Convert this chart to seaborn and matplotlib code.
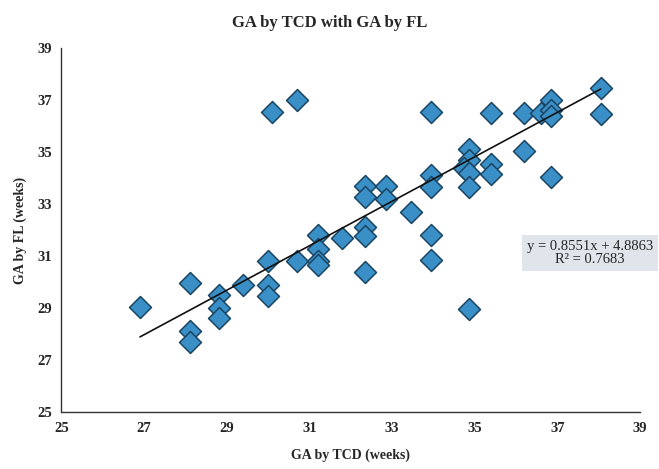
import matplotlib
matplotlib.use("Agg")
import matplotlib.pyplot as plt
import seaborn as sns
import numpy as np
import pandas as pd

# ---- data ----
ga_tcd = [26.9, 28.1, 28.1, 28.1, 28.8, 28.8, 28.8, 29.4, 30.0, 30.0, 30.0,
          30.1, 30.7, 30.7, 31.2, 31.2, 31.2, 31.2, 31.8, 32.35, 32.35, 32.35,
          32.35, 32.35, 32.85, 32.85, 33.45, 33.95, 33.95, 33.95, 33.95, 33.95,
          34.85, 34.85, 34.75, 34.85, 34.85, 34.85, 35.4, 35.4, 35.4, 36.2,
          36.2, 36.6, 36.85, 36.85, 36.85, 36.85, 38.05, 38.05]
ga_fl = [29.05, 29.95, 28.1, 27.7, 29.5, 29.0, 28.6, 29.9, 30.8, 29.9, 29.45,
         36.55, 37.0, 30.8, 31.8, 31.25, 30.8, 30.65, 31.7, 33.7, 33.25, 32.1,
         31.75, 30.4, 33.7, 33.2, 32.7, 36.55, 34.1, 33.65, 31.8, 30.85,
         35.1, 34.7, 34.4, 34.2, 33.65, 28.95, 34.55, 34.15, 36.5, 36.5,
         35.05, 36.5, 37.0, 36.6, 36.4, 34.05, 37.45, 36.45]
slope = 0.8551
intercept = 4.8863
r_squared = 0.7683
x_ticks = [25, 27, 29, 31, 33, 35, 37, 39]
y_ticks = [25, 27, 29, 31, 33, 35, 37, 39]

df = pd.DataFrame({"GA by TCD (weeks)": ga_tcd, "GA by FL (weeks)": ga_fl})

sns.set_style("white")
plt.rcParams["font.family"] = ["Liberation Serif", "DejaVu Serif"]

fig = plt.figure(figsize=(6.59, 4.69), dpi=100)
ax = fig.add_axes([61.5 / 659, 1 - 412 / 469, (640 - 61.5) / 659, (412 - 48) / 469])

sns.scatterplot(data=df, x="GA by TCD (weeks)", y="GA by FL (weeks)", ax=ax,
                marker="D", s=125, color="#3a8fc6", edgecolor="#1a4562",
                linewidth=1.1, zorder=3)

xl = np.array([min(ga_tcd), max(ga_tcd)])
ax.plot(xl, slope * xl + intercept, color="#111111", linewidth=1.2, zorder=4)

ax.set_xlim(25, 39)
ax.set_ylim(25, 39)
ax.set_xticks(x_ticks)
ax.set_yticks(y_ticks)
ax.tick_params(axis="both", direction="out", length=4, width=0.8, color="#333333",
               labelsize=10.5, pad=3)
for lab in ax.get_xticklabels() + ax.get_yticklabels():
    lab.set_fontweight("bold")
for side in ["top", "right"]:
    ax.spines[side].set_visible(False)
for side in ["left", "bottom"]:
    ax.spines[side].set_color("#333333")
    ax.spines[side].set_linewidth(1.0)

ax.set_xlabel("GA by TCD (weeks)", fontsize=10, fontweight="bold", labelpad=10)
ax.set_ylabel("GA by FL (weeks)", fontsize=10, fontweight="bold", labelpad=7)

fig.text(0.5, 1 - 23 / 469, "GA by TCD with GA by FL", ha="center", va="center",
         fontsize=12, fontweight="bold")

fig.text(590 / 659, 1 - 253 / 469,
         f"y = {slope:.4f}x + {intercept:.4f}\nR² = {r_squared:.4f}",
         ha="center", va="center", fontsize=10.5, linespacing=1.05,
         bbox=dict(boxstyle="square,pad=0.35", facecolor="#dfe5eb", edgecolor="none"))

fig.savefig("out.png", dpi=100)
